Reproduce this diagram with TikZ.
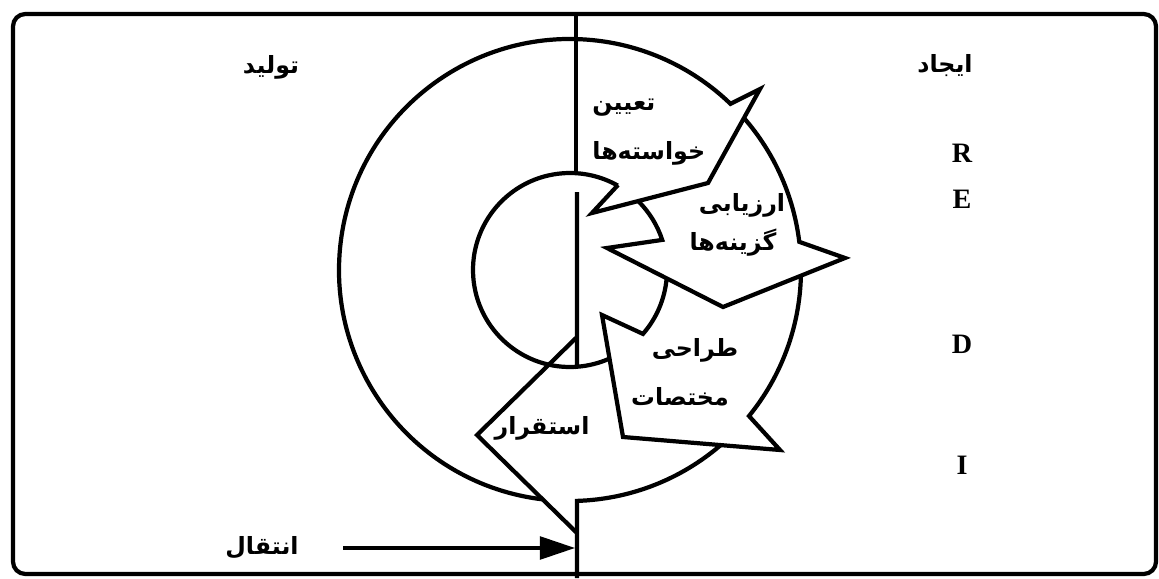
\documentclass[tikz,border=0pt]{standalone}
\usepackage{fontspec}
\setmainfont{Liberation Serif}
\newfontfamily\arabicfont[Script=Arabic]{DejaVu Sans}
\TeXXeTstate=1
\usetikzlibrary{arrows.meta}
\tikzset{
  ln/.style={line width=2.4pt, line join=miter, line cap=butt},
  fa/.style={font=\arabicfont\bfseries\fontsize{13.5}{16}\selectfont, inner sep=0pt},
  lat/.style={font=\bfseries\fontsize{16}{18}\selectfont, inner sep=0pt},
}
\begin{document}
\begin{tikzpicture}[x=0.02cm, y=-0.02cm]
\useasboundingbox (0,0) rectangle (1159,578);
\coordinate (C) at (570,270);
% frame
\draw[ln, rounded corners=7pt] (13,14) rectangle (1156,574);
% divider
\draw[ln, line width=2pt] (576,14) -- (576,173.2);
\draw[ln] (577,192) -- (576.9,366.75) arc[start angle=85.9, end angle=66.0, radius=97];
% arrow 1 + outer left arc
\draw[ln] (C) ++(-263.2:231) arc[start angle=-263.2, end angle=-46, radius=231]
  -- (760,89) -- (708,183) -- (592,213) -- (618,185);
% inner circle left half + arrow 1 inner edge
\draw[ln] (C) ++(-274.1:97) arc[start angle=-274.1, end angle=-60.5, radius=97];
% arrow 2
\draw[ln] (C) ++(-41.1:231) arc[start angle=-41.1, end angle=-7, radius=231]
  -- (845,258) -- (723,307) -- (607,248) -- (662.2,239.9)
  arc[start angle=-18.1, end angle=-45.3, radius=97];
% arrow 3
\draw[ln] (C) ++(1.4:231) arc[start angle=1.4, end angle=39.2, radius=231]
  -- (780,450) -- (623,437) -- (602,315) -- (642.96,333.9)
  arc[start angle=41.2, end angle=4.9, radius=97];
% arrow 4
\draw[ln] (C) ++(49.3:231) arc[start angle=49.3, end angle=88.26, radius=231] -- (577,578);
\draw[ln] (577,337) -- (477,435) -- (577,533);
% labels
\node[fa] (tolid) at (271,67) {\beginR تولید\endR};
\node[fa] (ijad) at (945,66) {\beginR ایجاد\endR};
\node[lat] (lR) at (962,153) {R};
\node[lat] (lE) at (962,199) {E};
\node[lat] (lD) at (962,344) {D};
\node[lat] (lI) at (962,465) {I};
\node[fa, anchor=west] (t1a) at (592,108) {\beginR تعیین\endR};
\node[fa, anchor=west] (t1b) at (592,153) {\beginR خواسته‌ها\endR};
\node[fa] (t2a) at (742,205) {\beginR ارزیابی\endR};
\node[fa] (t2b) at (733,243) {\beginR گزینه‌ها\endR};
\node[fa] (t3a) at (695,350) {\beginR طراحی\endR};
\node[fa] (t3b) at (680,397) {\beginR مختصات\endR};
\node[fa] (t4) at (542,428) {\beginR استقرار\endR};
\node[fa] (enteqal) at (262,548) {\beginR انتقال\endR};
\coordinate (arrS) at (343,548);
\coordinate (arrE) at (575,548);
\draw[line width=1.8pt, -{Triangle[length=20pt, width=13pt]}] (arrS) -- (arrE);
\end{tikzpicture}
\end{document}
